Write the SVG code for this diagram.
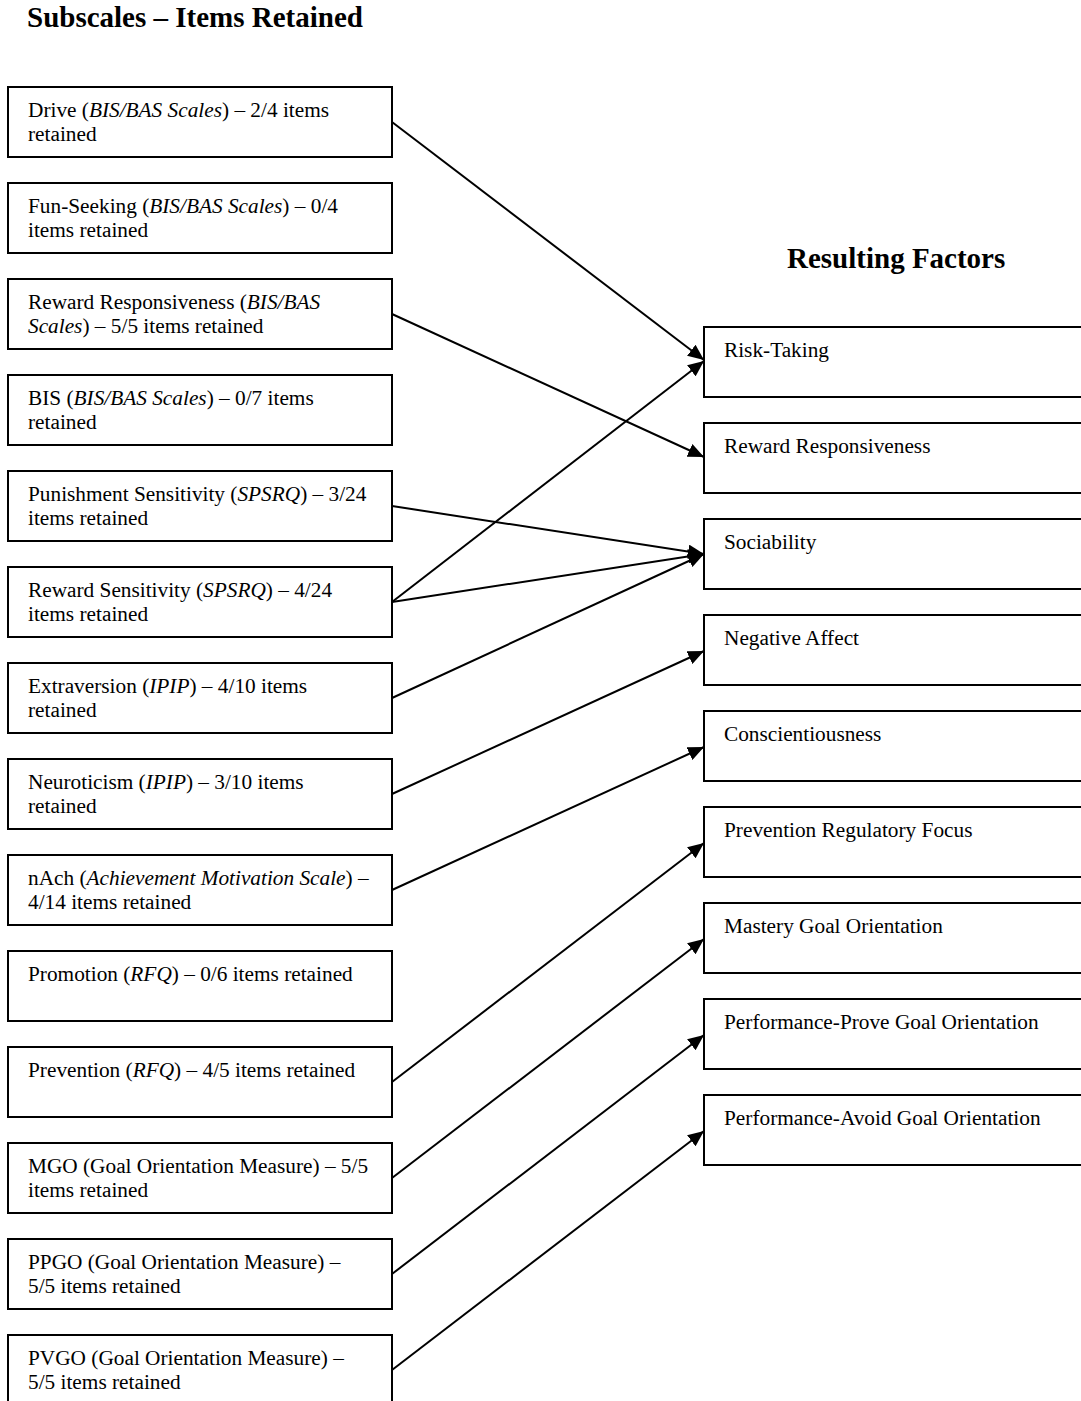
<svg xmlns="http://www.w3.org/2000/svg" width="1081" height="1401" viewBox="0 0 1081 1401">
  <style>
    text { font-family: "Liberation Serif", "Times New Roman", serif; font-size: 21.3px; fill: #000; }
    .title { font-size: 29px; font-weight: bold; }
    .box { fill: #fff; stroke: #000; stroke-width: 2; }
    .link { fill: none; stroke: #000; stroke-width: 2; }
    .i { font-style: italic; }
  </style>
  <defs>
    <marker id="arrow" markerUnits="userSpaceOnUse" markerWidth="18" markerHeight="14" refX="16" refY="7" orient="auto">
      <path d="M0,0 L16,7 L0,14 Z" fill="#000"/>
    </marker>
  </defs>
  <rect width="1081" height="1401" fill="#fff"/>

  <text class="title" x="27" y="27">Subscales – Items Retained</text>
  <text class="title" x="787" y="268">Resulting Factors</text>

  <!-- subscale boxes -->
  <g id="drive"><rect class="box" x="8" y="87" width="384" height="70"/>
    <text x="28" y="117">Drive (<tspan class="i">BIS/BAS Scales</tspan>) – 2/4 items</text><text x="28" y="141">retained</text></g>
  <g id="fun-seeking"><rect class="box" x="8" y="183" width="384" height="70"/>
    <text x="28" y="213">Fun-Seeking (<tspan class="i">BIS/BAS Scales</tspan>) – 0/4</text><text x="28" y="237">items retained</text></g>
  <g id="reward-resp-bas"><rect class="box" x="8" y="279" width="384" height="70"/>
    <text x="28" y="309">Reward Responsiveness (<tspan class="i">BIS/BAS</tspan></text><text x="28" y="333"><tspan class="i">Scales</tspan>) – 5/5 items retained</text></g>
  <g id="bis"><rect class="box" x="8" y="375" width="384" height="70"/>
    <text x="28" y="405">BIS (<tspan class="i">BIS/BAS Scales</tspan>) – 0/7 items</text><text x="28" y="429">retained</text></g>
  <g id="punishment"><rect class="box" x="8" y="471" width="384" height="70"/>
    <text x="28" y="501">Punishment Sensitivity (<tspan class="i">SPSRQ</tspan>) – 3/24</text><text x="28" y="525">items retained</text></g>
  <g id="reward-sens"><rect class="box" x="8" y="567" width="384" height="70"/>
    <text x="28" y="597">Reward Sensitivity (<tspan class="i">SPSRQ</tspan>) – 4/24</text><text x="28" y="621">items retained</text></g>
  <g id="extraversion"><rect class="box" x="8" y="663" width="384" height="70"/>
    <text x="28" y="693">Extraversion (<tspan class="i">IPIP</tspan>) – 4/10 items</text><text x="28" y="717">retained</text></g>
  <g id="neuroticism"><rect class="box" x="8" y="759" width="384" height="70"/>
    <text x="28" y="789">Neuroticism (<tspan class="i">IPIP</tspan>) – 3/10 items</text><text x="28" y="813">retained</text></g>
  <g id="nach"><rect class="box" x="8" y="855" width="384" height="70"/>
    <text x="28" y="885">nAch (<tspan class="i">Achievement Motivation Scale</tspan>) –</text><text x="28" y="909">4/14 items retained</text></g>
  <g id="promotion"><rect class="box" x="8" y="951" width="384" height="70"/>
    <text x="28" y="981">Promotion (<tspan class="i">RFQ</tspan>) – 0/6 items retained</text></g>
  <g id="prevention"><rect class="box" x="8" y="1047" width="384" height="70"/>
    <text x="28" y="1077">Prevention (<tspan class="i">RFQ</tspan>) – 4/5 items retained</text></g>
  <g id="mgo"><rect class="box" x="8" y="1143" width="384" height="70"/>
    <text x="28" y="1173">MGO (Goal Orientation Measure) – 5/5</text><text x="28" y="1197">items retained</text></g>
  <g id="ppgo"><rect class="box" x="8" y="1239" width="384" height="70"/>
    <text x="28" y="1269">PPGO (Goal Orientation Measure) –</text><text x="28" y="1293">5/5 items retained</text></g>
  <g id="pvgo"><rect class="box" x="8" y="1335" width="384" height="70"/>
    <text x="28" y="1365">PVGO (Goal Orientation Measure) –</text><text x="28" y="1389">5/5 items retained</text></g>

  <!-- factor boxes -->
  <g id="f-risk"><rect class="box" x="704" y="327" width="390" height="70"/><text x="724" y="357">Risk-Taking</text></g>
  <g id="f-reward"><rect class="box" x="704" y="423" width="390" height="70"/><text x="724" y="453">Reward Responsiveness</text></g>
  <g id="f-sociability"><rect class="box" x="704" y="519" width="390" height="70"/><text x="724" y="549">Sociability</text></g>
  <g id="f-negative"><rect class="box" x="704" y="615" width="390" height="70"/><text x="724" y="645">Negative Affect</text></g>
  <g id="f-conscientiousness"><rect class="box" x="704" y="711" width="390" height="70"/><text x="724" y="741">Conscientiousness</text></g>
  <g id="f-prevention"><rect class="box" x="704" y="807" width="390" height="70"/><text x="724" y="837">Prevention Regulatory Focus</text></g>
  <g id="f-mastery"><rect class="box" x="704" y="903" width="390" height="70"/><text x="724" y="933">Mastery Goal Orientation</text></g>
  <g id="f-prove"><rect class="box" x="704" y="999" width="390" height="70"/><text x="724" y="1029">Performance-Prove Goal Orientation</text></g>
  <g id="f-avoid"><rect class="box" x="704" y="1095" width="390" height="70"/><text x="724" y="1125">Performance-Avoid Goal Orientation</text></g>

  <!-- connectors -->
  <g id="connectors">
    <line class="link" x1="392" y1="122" x2="704" y2="360" marker-end="url(#arrow)"/>
    <line class="link" x1="392" y1="314" x2="704" y2="457" marker-end="url(#arrow)"/>
    <line class="link" x1="392" y1="506" x2="704" y2="554" marker-end="url(#arrow)"/>
    <line class="link" x1="392" y1="602" x2="704" y2="361" marker-end="url(#arrow)"/>
    <line class="link" x1="392" y1="602" x2="704" y2="554" marker-end="url(#arrow)"/>
    <line class="link" x1="392" y1="698" x2="704" y2="554" marker-end="url(#arrow)"/>
    <line class="link" x1="392" y1="794" x2="704" y2="651" marker-end="url(#arrow)"/>
    <line class="link" x1="392" y1="890" x2="704" y2="747" marker-end="url(#arrow)"/>
    <line class="link" x1="392" y1="1082" x2="704" y2="843" marker-end="url(#arrow)"/>
    <line class="link" x1="392" y1="1178" x2="704" y2="939" marker-end="url(#arrow)"/>
    <line class="link" x1="392" y1="1274" x2="704" y2="1035" marker-end="url(#arrow)"/>
    <line class="link" x1="392" y1="1370" x2="704" y2="1131" marker-end="url(#arrow)"/>
  </g>
</svg>
